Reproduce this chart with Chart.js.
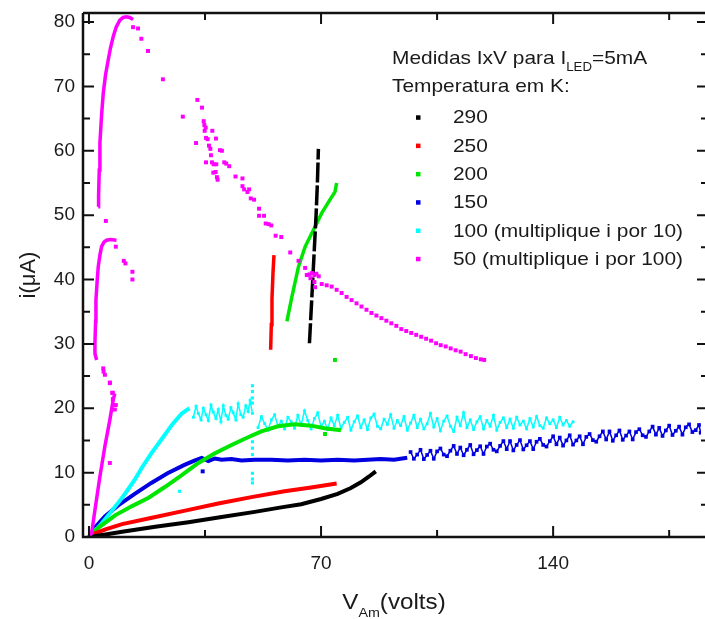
<!DOCTYPE html>
<html>
<head>
<meta charset="utf-8">
<title>Medidas IxV</title>
<script src="https://cdn.jsdelivr.net/npm/chart.js@4.4.0/dist/chart.umd.min.js"></script>
<style>
    html, body { margin: 0; padding: 0; background: #fff; }
    #wrap { width: 705px; height: 619px; }
</style>
</head>
<body>
<div id="wrap"><canvas id="ivChart" width="705" height="619"></canvas></div>
<script>
(function() {
    'use strict';

    // Axis ticks
    const xMajorTicks = [0, 70, 140];
    const xMinorTicks = [35, 105, 175];
    const yMajorTicks = [0, 10, 20, 30, 40, 50, 60, 70, 80];
    const yMinorTicks = [5, 15, 25, 35, 45, 55, 65, 75];

    // Legend
    const legendLabels = ['290', '250', '200', '150', '100 (multiplique i por 10)', '50 (multiplique i por 100)'];
    const seriesColors = ['#000000', '#ff0000', '#00e600', '#0000e0', '#00ffff', '#ff00ff'];

    // [V_Am (volts), i (uA)]
    // 290 K
    const k290Curve = [[0,0],[5,0.4],[10,0.8],[20,1.6],[30,2.3],[40,3.1],[50,3.9],[58,4.6],[64,5.1],[70,5.9],[75,6.7],[79,7.6],[82,8.5],[84.5,9.4],[86.5,10.2]];
    const k290Steep = [[66.5,30.1],[67.0,35],[67.5,40],[68.0,45],[68.5,50],[68.9,55],[69.2,60.3]];

    // 250 K
    const k250Curve = [[0,0],[2,0.6],[5,1.2],[10,2.0],[19,3.0],[29,4.1],[39,5.2],[49,6.2],[59,7.1],[67,7.7],[74.7,8.3]];
    const k250Steep = [[54.8,29.1],[55.0,33],[55.2,37],[55.5,41],[55.8,43.8]];

    // 200 K
    const k200Curve = [[0,0],[3,1.5],[8,3.4],[13,4.8],[18,6.1],[23,7.8],[28,9.6],[33,11.5],[38,13.0],[43,14.3],[48,15.5],[52,16.4],[57,17.2],[62,17.5],[67,17.3],[71,16.9],[76,16.6]];
    const k200Steep = [[59.7,33.5],[61.2,37.3],[63.2,42.0],[65.2,45.1],[67.7,47.7],[70.2,50.3],[72.7,52.4],[74.2,53.6],[74.7,55.0]];
    const k200Stray = [[71.2,16.0],[74.2,27.5]];

    // 150 K
    const k150Rise = [[0,0],[2,1.6],[4.8,3.2],[8.8,4.9],[13.8,6.7],[18.8,8.4],[23.7,9.9],[28.8,11.2],[32,11.9],[34,12.3],[36,11.8],[38,12.2],[40,12.0],[43,12.1],[46,11.9],[50,12.0],[55,12.0],[60,11.9],[65,12.0],[70,11.9],[75,12.0],[80,11.9],[84,12.0],[88,12.1],[92,12.0],[96,12.3]];
    const k150Noisy = [[97,13.2],[98,12.15],[99,12.8],[100,13.55],[101,12.1],[102,12.75],[103,13.4],[104,12.15],[105,13.3],[106,13.75],[107,12.8],[108,12.55],[109,13.4],[110,14.15],[111,12.9],[112,13.9],[113,12.7],[114,13.55],[115,14.3],[116,12.85],[117,13.5],[118,14.1],[119,12.9],[120,14.05],[121,14.5],[122,13.55],[123,13.3],[124,14.15],[125,14.9],[126,13.65],[127,14.9],[128,13.45],[129,14.3],[130,15.05],[131,13.6],[132,14.25],[133,14.9],[134,13.65],[135,14.8],[136,15.25],[137,14.3],[138,14.05],[139,14.9],[140,15.65],[141,14.4],[142,15.45],[143,14.2],[144,15.0],[145,15.8],[146,14.35],[147,15.0],[148,15.65],[149,14.4],[150,15.55],[151,16.0],[152,15.05],[153,14.8],[154,15.65],[155,16.4],[156,15.15],[157,16.4],[158,14.95],[159,15.8],[160,16.55],[161,15.1],[162,15.75],[163,16.4],[164,15.15],[165,16.3],[166,16.75],[167,15.8],[168,15.55],[169,16.4],[170,17.15],[171,15.9],[172,16.95],[173,15.7],[174,16.55],[175,17.3],[176,15.85],[177,16.5],[178,17.15],[179,15.9],[180,17.05],[181,17.5],[182,16.3],[183,16.6],[184,17.4],[184.5,16.2]];
    const k150Stray = [[34.3,10.2]];

    // 100 K (i x10)
    const k100Rise = [[0,0],[3,1.6],[6,3.5],[8.8,5.3],[11,6.8],[13.8,8.9],[16,10.8],[18.8,13.0],[21.8,15.1],[25.3,17.6],[28,19.2],[30.3,20.0]];
    const k100Noisy = [[31.5,18.6],[32.3,20.3],[33,19.2],[33.8,18.2],[34.5,20.0],[35.3,19.0],[36,18.1],[36.8,20.5],[37.5,19.4],[38.3,18.4],[39,19.8],[39.8,17.9],[40.5,20.4],[41.3,18.9],[42,18.3],[42.8,20.1],[43.5,19.3],[44.3,18.2],[45,20.7],[45.8,19.0],[46.5,18.6],[47.3,20.4],[48,19.5],[48.6,21.2],[49.3,19.2]];
    const k100Spike = [[49.3,23.5],[49.3,22.6],[49.3,21.6],[49.3,20.8],[49.3,15.8],[49.3,14.8],[49.3,13.8],[49.3,12.8],[49.3,9.9],[49.3,9.0],[49.3,8.4],[27.3,7.1]];
    const k100Flat = [[51,17.0],[52,18.7],[53,17.6],[54,16.6],[55,18.2],[56,19.0],[57,17.2],[58,18.0],[59,16.8],[60,18.6],[61,17.9],[62,16.9],[63,18.9],[64,17.4],[65,19.6],[66,18.1],[67,16.8],[68,18.4],[69,19.3],[70,17.1],[71,18.0],[72,16.7],[73,18.5],[74,17.3],[75,18.9],[76,16.9],[77,17.8],[78,18.6],[79,16.6],[80,17.9],[81,18.8],[82,17.0],[83,18.2],[84,16.7],[85,18.5],[86,19.1],[87,17.2],[88,16.8],[89,18.3],[90,17.5],[91,19.0],[92,16.9],[93,18.1],[94,17.3],[95,18.7],[96,16.6],[97,17.7],[98,18.9],[99,17.0],[100,18.3],[101,16.8],[102,17.6],[103,19.2],[104,17.1],[105,18.4],[106,16.5],[107,18.0],[108,18.8],[109,17.2],[110,16.4],[111,18.6],[112,17.3],[113,19.3],[114,17.0],[115,18.2],[116,16.7],[117,17.9],[118,18.7],[119,16.8],[120,18.1],[121,17.2],[122,18.9],[123,16.6],[124,17.8],[125,18.5],[126,17.0],[127,18.3],[128,16.9],[129,18.6],[130,17.4],[131,18.0],[132,16.8],[133,18.4],[134,17.1],[135,18.7],[136,17.3],[137,16.9],[138,18.5],[139,17.6],[140,18.2],[141,17.0],[142,18.6],[143,17.4],[144,18.1],[145,17.2],[146,17.9]];

    // 50 K (i x100)
    const k50Steep = [[0,0],[0.8,0.6],[1.8,4.2],[3.3,9.4],[4.8,14.1],[6.3,18.2],[7.3,21.3],[7.8,22.3]];
    const k50LowLoop = [[2.3,27.5],[1.8,28.5],[1.8,30.1],[2.0,33.5],[2.1,36.8],[2.5,40.0],[2.8,42.0],[3.3,43.8],[3.8,45.1],[4.5,45.8],[5.3,46.1],[6.5,46.2],[8.3,46.1]];
    const k50HighLoop = [[2.8,51.3],[2.9,53],[3.1,57],[3.3,61.2],[3.8,65.5],[4.3,68.9],[5,71.8],[5.8,74.1],[6.5,76],[7.3,77.7],[8.2,79.2],[9.3,80.3],[10.3,80.7],[11.3,80.8],[12.3,80.7],[13.3,80.4]];
    const k50Dots = [[6.3,11.5],[7.8,19.8],[8.1,20.5],[7.0,22.4],[6.3,24.0],[4.8,25.2],[4.3,26.2],[4.4,25.7],[6.3,23.9],[7.2,22.4],[7.2,21.4],
        [8.1,45.1],[10.5,42.9],[11.0,42.5],[13.1,41.2],[13.1,40.0],[5.1,49.1],
        [13.3,79.2],[14.8,79.0],[15.8,77.4],[17.8,75.5],[22.3,71.1],[28.3,65.3],[32.7,67.9],[34.1,66.7],[32.3,61.2],[34.6,64.6],[34.8,64.0],[35.2,63.6],[34.9,63.1],[37.2,63.1],[35.3,62.0],[35.8,61.8],[38.3,61.9],[36.2,60.8],[36.6,60.3],[36.8,59.3],[39.5,60.1],[40.1,60.0],[35.3,58.2],[37.1,58.2],[37.6,57.9],[38.4,57.9],[40.8,58.2],[41.4,58.0],[42.3,57.6],[37.5,56.6],[38.2,56.7],[38.8,55.5],[38.6,55.9],[44.2,56.0],[46.3,55.7],[46.3,54.5],[46.8,54.0],[47.8,53.6],[48.3,54.0],[48.8,52.6],[49.8,52.4],[51.3,51.0],[51.3,49.9],[52.8,49.9],[53.3,48.7],[54.2,48.6],[55.0,48.4],[56.3,46.8],[58.0,46.6],[60.7,44.2],[63.2,42.9],[65.2,41.8],[65.7,40.7],[66.5,40.8],[67.3,41.0],[68.0,40.7],[68.6,40.9],[69.3,40.5],[66.8,40.2],[68.0,39.6],[68.2,38.8],
        [70.2,39.3],[71.7,39.1],[73.2,38.9],[74.7,38.4],[76.2,37.9],[77.7,37.3],[79.2,36.8],[80.7,36.3],[82.2,35.8],[83.7,35.3],[85.2,34.8],[86.7,34.4],[88.2,34.0],[89.7,33.6],[91.2,33.2],[92.7,32.8],[94.2,32.3],[95.7,32.0],[97.2,31.7],[98.7,31.4],[100.2,31.1],[101.7,30.8],[103.2,30.5],[104.7,30.1],[106.1,29.8],[107.6,29.6],[109.1,29.3],[110.6,29.0],[112.1,28.8],[113.6,28.4],[115.2,28.1],[116.7,27.8],[118.2,27.6],[119.2,27.5]];

    const FONT = "'Liberation Sans', Arial, sans-serif";
    const TEXT_COLOR = '#1a1a1a';
    const STRETCH = 1.1;

    function pts(list) {
        return list.map(p => ({ x: p[0], y: p[1] }));
    }

    function lineSet(list, color, width, dash) {
        return {
            data: pts(list),
            showLine: true,
            borderColor: color,
            backgroundColor: color,
            borderWidth: width,
            borderDash: dash || [],
            pointRadius: 0,
            tension: 0
        };
    }

    function dotSet(list, color, r) {
        return {
            data: pts(list),
            showLine: false,
            pointStyle: 'rect',
            pointRadius: r || 2.8,
            pointBorderWidth: 0,
            backgroundColor: color,
            borderColor: color
        };
    }

    // Noisy stretches: small squares joined by a thin jagged trace
    function noisySet(list, color, r) {
        return {
            data: pts(list),
            showLine: true,
            borderColor: color,
            backgroundColor: color,
            pointBackgroundColor: color,
            borderWidth: 1.5,
            pointStyle: 'rect',
            pointRadius: r || 2.2,
            pointBorderWidth: 0,
            tension: 0
        };
    }

    const [cBlack, cRed, cGreen, cBlue, cCyan, cMagenta] = seriesColors;

    const datasets = [
        lineSet(k50Steep, cMagenta, 3.5),
        lineSet(k50LowLoop, cMagenta, 3.5),
        lineSet(k50HighLoop, cMagenta, 3.5),
        dotSet(k50Dots, cMagenta),
        lineSet(k290Curve, cBlack, 4),
        lineSet(k290Steep, cBlack, 3.5, [20, 3]),
        lineSet(k250Curve, cRed, 4),
        lineSet(k250Steep, cRed, 3.5),
        lineSet(k200Curve, cGreen, 4),
        lineSet(k200Steep, cGreen, 3.5),
        dotSet(k200Stray, cGreen),
        lineSet(k100Rise, cCyan, 4),
        noisySet(k100Noisy, cCyan, 2),
        noisySet(k100Flat, cCyan, 2),
        dotSet(k100Spike, cCyan, 2.2),
        lineSet(k150Rise, cBlue, 4),
        noisySet(k150Noisy, cBlue, 2.6),
        dotSet(k150Stray, cBlue)
    ];

    // Draw stretched text (the source figure has slightly wide glyphs)
    function stretchText(ctx, str, x, y, size) {
        ctx.font = size + 'px ' + FONT;
        ctx.save();
        ctx.translate(x, y);
        ctx.scale(STRETCH, 1);
        ctx.fillText(str, 0, 0);
        ctx.restore();
        return ctx.measureText(str).width * STRETCH;
    }

    const frameAndNotes = {
        id: 'frameAndNotes',
        afterDraw(chart) {
            const ctx = chart.ctx;
            const xs = chart.scales.x;
            const ys = chart.scales.y;
            const a = chart.chartArea;
            const rightAxis = a.right + 7;

            ctx.save();
            ctx.strokeStyle = '#111';
            ctx.lineWidth = 2.5;
            ctx.beginPath();
            ctx.moveTo(a.left, a.top);
            ctx.lineTo(a.left, a.bottom);
            ctx.lineTo(a.right + 5, a.bottom);
            ctx.moveTo(a.left, a.top);
            ctx.lineTo(a.right + 5, a.top);
            ctx.stroke();

            // Inward ticks
            ctx.lineWidth = 2;
            ctx.beginPath();
            function xTick(v, len) {
                const px = xs.getPixelForValue(v);
                ctx.moveTo(px, a.bottom); ctx.lineTo(px, a.bottom - len);
                ctx.moveTo(px, a.top); ctx.lineTo(px, a.top + len);
            }
            function yTick(v, len) {
                const py = ys.getPixelForValue(v);
                ctx.moveTo(a.left, py); ctx.lineTo(a.left + len, py);
                ctx.moveTo(rightAxis, py); ctx.lineTo(rightAxis - len, py);
            }
            xMajorTicks.forEach(v => xTick(v, 11));
            xMinorTicks.forEach(v => xTick(v, 7));
            yMajorTicks.forEach(v => yTick(v, 11));
            yMinorTicks.forEach(v => yTick(v, 7));
            ctx.stroke();

            ctx.fillStyle = TEXT_COLOR;
            ctx.textAlign = 'left';
            ctx.textBaseline = 'alphabetic';

            // Legend header
            let x = 392;
            x += stretchText(ctx, 'Medidas IxV para I', x, 63.5, 19);
            x += stretchText(ctx, 'LED', x, 70.5, 12);
            stretchText(ctx, '=5mA', x, 63.5, 19);
            stretchText(ctx, 'Temperatura em K:', 392, 91.5, 19);

            // Legend entries
            legendLabels.forEach((label, i) => {
                const base = 123.3 + i * 28.3;
                ctx.fillStyle = seriesColors[i];
                ctx.fillRect(416, base - 8, 4.5, 4.5);
                ctx.fillStyle = TEXT_COLOR;
                stretchText(ctx, label, 453, base, 19);
            });

            // X axis title with subscript
            ctx.font = '22px ' + FONT;
            const wV = ctx.measureText('V').width * STRETCH;
            const wRest = ctx.measureText('(volts)').width * STRETCH;
            ctx.font = '13px ' + FONT;
            const wSub = ctx.measureText('Am').width * STRETCH;
            const mid = (a.left + a.right) / 2 + 2;
            let tx = mid - (wV + wSub + wRest) / 2;
            tx += stretchText(ctx, 'V', tx, 609, 22);
            tx += stretchText(ctx, 'Am', tx, 617, 13);
            stretchText(ctx, '(volts)', tx, 609, 22);

            // Y axis title
            ctx.save();
            ctx.translate(29, (a.top + a.bottom) / 2);
            ctx.rotate(-Math.PI / 2);
            ctx.font = '22px ' + FONT;
            ctx.textAlign = 'center';
            ctx.textBaseline = 'middle';
            ctx.fillText('i(\u03bcA)', 0, 0);
            ctx.restore();

            ctx.restore();
        }
    };

    const ctx = document.getElementById('ivChart');
    new Chart(ctx, {
        type: 'scatter',
        data: { datasets: datasets },
        options: {
            responsive: false,
            animation: false,
            events: [],
            layout: { padding: { top: 13, left: 0, right: 0, bottom: 0 } },
            plugins: {
                legend: { display: false },
                tooltip: { enabled: false }
            },
            scales: {
                x: {
                    type: 'linear',
                    min: -1.8,
                    max: 184.6,
                    grid: { display: false },
                    border: { display: false },
                    ticks: {
                        font: { family: FONT, size: 19 },
                        color: TEXT_COLOR,
                        padding: 7,
                        maxRotation: 0
                    },
                    afterBuildTicks: function(scale) {
                        scale.ticks = xMajorTicks.map(v => ({ value: v }));
                    },
                    afterFit: function(scale) {
                        scale.height = 82;
                    }
                },
                y: {
                    type: 'linear',
                    min: 0,
                    max: 81.4,
                    grid: { display: false },
                    border: { display: false },
                    ticks: {
                        font: { family: FONT, size: 19 },
                        color: TEXT_COLOR,
                        padding: 0
                    },
                    afterBuildTicks: function(scale) {
                        scale.ticks = yMajorTicks.map(v => ({ value: v }));
                    },
                    afterFit: function(scale) {
                        scale.width = 83;
                    }
                }
            }
        },
        plugins: [frameAndNotes]
    });
})();
</script>
</body>
</html>
